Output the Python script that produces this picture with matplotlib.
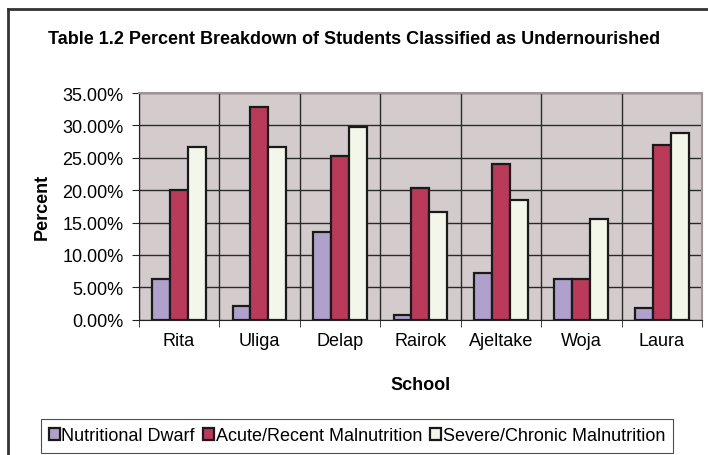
import matplotlib
matplotlib.use('Agg')
import matplotlib.pyplot as plt
from matplotlib.lines import Line2D
import numpy as np

# Values (percent).
schools = ['Rita', 'Uliga', 'Delap', 'Rairok', 'Ajeltake', 'Woja', 'Laura']
dwarf = [6.3, 2.1, 13.6, 0.8, 7.2, 6.3, 1.8]
acute = [20.0, 32.9, 25.2, 20.3, 24.0, 6.3, 27.0]
chronic = [26.7, 26.7, 29.8, 16.6, 18.5, 15.5, 28.9]
series_names = ['Nutritional Dwarf', 'Acute/Recent Malnutrition',
                'Severe/Chronic Malnutrition']
y_ticks = [0, 5, 10, 15, 20, 25, 30, 35]

plt.rcParams['font.family'] = ['Liberation Sans', 'DejaVu Sans']
fs = 13

fig = plt.figure(figsize=(7.08, 4.56), dpi=100)
ax = fig.add_axes([0.1959, 0.2967, 0.7956, 0.4971])
ax.set_facecolor('#D4CCCC')

x = np.arange(len(schools))
w = 1 / 4.5
colors = ['#B0A0CC', '#BA3A5A', '#F3F7EA']
for i, (vals, c) in enumerate(zip([dwarf, acute, chronic], colors)):
    ax.bar(x + (i - 1) * w, vals, w, color=c, edgecolor='#1A1A1A',
           linewidth=1.6, zorder=3, label=series_names[i])

ax.set_xlim(-0.5, len(schools) - 0.5)
ax.set_ylim(0, 35)
ax.set_yticks(y_ticks)
ax.set_yticklabels([f'{v:.2f}%' for v in y_ticks], fontsize=fs)
ax.set_xticks(x)
ax.set_xticklabels(schools, fontsize=fs)
ax.set_xticks(np.arange(-0.5, len(schools)), minor=True)
ax.tick_params(axis='x', which='major', length=0, pad=9)
ax.tick_params(axis='x', which='minor', length=5, direction='out', color='#222222')
ax.tick_params(axis='y', length=5, direction='out', color='#222222', pad=6)

ax.grid(axis='y', which='major', color='#2A2A2A', linewidth=1, zorder=1)
ax.grid(axis='x', which='minor', color='#2A2A2A', linewidth=1, zorder=1)
ax.set_axisbelow(True)

for side in ['top', 'right']:
    ax.spines[side].set_color('#A09494')
    ax.spines[side].set_linewidth(1.5)
for side in ['left', 'bottom']:
    ax.spines[side].set_color('#222222')

ax.set_ylabel('Percent', fontsize=fs, fontweight='bold', labelpad=8)
ax.set_xlabel('School', fontsize=fs, fontweight='bold', labelpad=19)

fig.text(0.5, 1 - 40 / 456, 'Table 1.2 Percent Breakdown of Students Classified as Undernourished',
         ha='center', va='center', fontsize=fs, fontweight='bold')

# Outer chart frame (only the left and top edges are visible).
fig.add_artist(Line2D([8 / 708, 8 / 708], [0, 1 - 10 / 456], color='#333333', linewidth=2))
fig.add_artist(Line2D([8 / 708, 1], [1 - 10 / 456, 1 - 10 / 456], color='#333333', linewidth=2))

leg = fig.legend(loc='center', bbox_to_anchor=(357 / 708, 1 - 437 / 456), ncol=3,
                 fontsize=fs, frameon=True, fancybox=False, handlelength=0.6,
                 handleheight=0.6, handletextpad=0.1, columnspacing=0.45,
                 borderpad=0.45, borderaxespad=0)
leg.get_frame().set_edgecolor('#222222')
leg.get_frame().set_linewidth(0.8)

fig.savefig('out.png', dpi=100)
